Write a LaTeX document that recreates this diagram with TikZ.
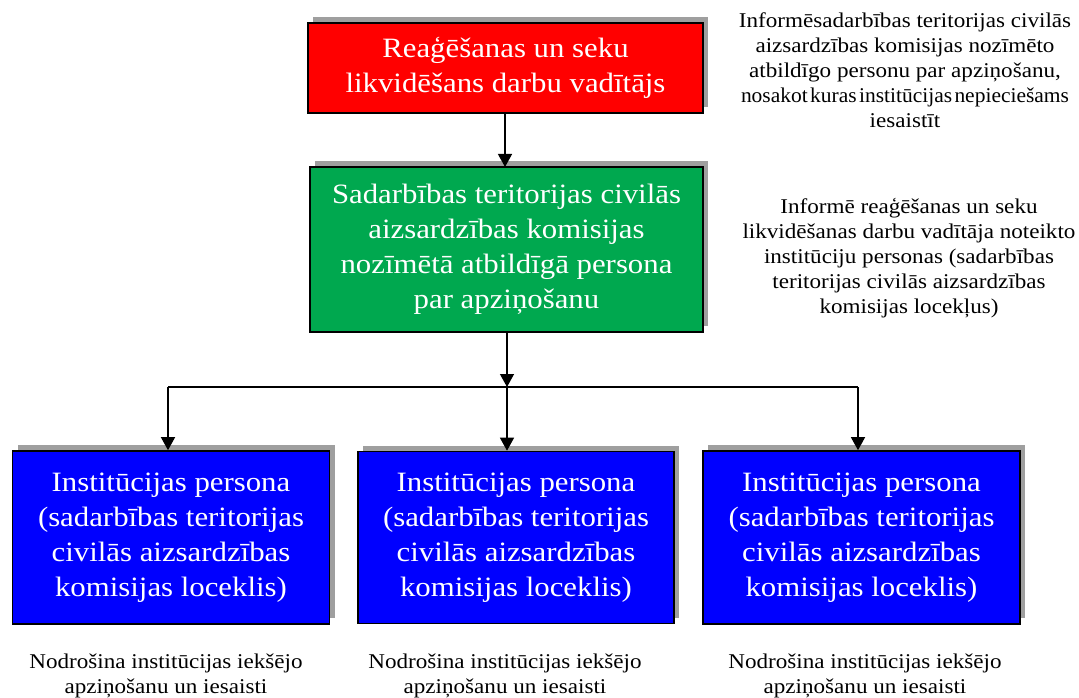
\documentclass[tikz,border=0pt]{standalone}
\usepackage{fontspec}
\setmainfont{Liberation Serif}[FakeStretch=1.1]
\usetikzlibrary{arrows.meta,shadows}
\definecolor{boxred}{HTML}{FF0000}
\definecolor{boxgreen}{HTML}{00A84F}
\definecolor{boxblue}{HTML}{0000FF}
\tikzset{
  boxnode/.style={draw=black, line width=1.6pt, text=white, align=center,
    inner sep=0pt, font=\fontsize{28}{35}\selectfont,
    general shadow={fill=gray!75, shadow xshift=5pt, shadow yshift=6pt}},
  note/.style={align=center, inner sep=0pt, font=\fontsize{21}{25}\selectfont, text=black},
  conn/.style={line width=1.3pt, draw=black},
  arr/.style={conn, -{Triangle[width=14pt,length=13pt]}}
}
\begin{document}
\begin{tikzpicture}[x=1pt,y=-1pt]
\useasboundingbox (0,0) rectangle (1079,698);
\fill[white] (0,0) rectangle (1079,698);

\node[boxnode, fill=boxred, minimum width=395pt, minimum height=90pt] (red) at (505.5,68)
  {Reaģēšanas un seku\\likvidēšans darbu vadītājs};
\node[boxnode, fill=boxgreen, minimum width=393pt, minimum height=165pt] (green) at (506.5,249.5)
  {Sadarbības teritorijas civilās\\aizsardzības komisijas\\nozīmētā atbildīgā persona\\par apziņošanu};
\node[boxnode, fill=boxblue, minimum width=317pt, minimum height=173pt] (b1) at (171,537.5)
  {Institūcijas persona\\(sadarbības teritorijas\\civilās aizsardzības\\komisijas loceklis)};
\node[boxnode, fill=boxblue, minimum width=316pt, minimum height=172pt] (b2) at (516,537.5)
  {Institūcijas persona\\(sadarbības teritorijas\\civilās aizsardzības\\komisijas loceklis)};
\node[boxnode, fill=boxblue, minimum width=317pt, minimum height=173pt] (b3) at (861.5,537.5)
  {Institūcijas persona\\(sadarbības teritorijas\\civilās aizsardzības\\komisijas loceklis)};

\node[note] (n1) at (905,70)
  {Informēsadarbības teritorijas civilās\\aizsardzības komisijas nozīmēto\\atbildīgo personu par apziņošanu,\\\scalebox{0.93}[1]{\spaceskip=0.12em\relax nosakot kuras institūcijas nepieciešams}\\iesaistīt};
\node[note] (n2) at (909,258)
  {Informē reaģēšanas un seku\\likvidēšanas darbu vadītāja noteikto\\institūciju personas (sadarbības\\teritorijas civilās aizsardzības\\komisijas locekļus)};
\node[note] (f1) at (166,676) {Nodrošina institūcijas iekšējo\\apziņošanu un iesaisti};
\node[note] (f2) at (505,676) {Nodrošina institūcijas iekšējo\\apziņošanu un iesaisti};
\node[note] (f3) at (865,676) {Nodrošina institūcijas iekšējo\\apziņošanu un iesaisti};

\coordinate (busL) at (168,387);
\coordinate (busM) at (507,387);
\coordinate (busR) at (858,387);

\draw[arr] (red.south -| 505,0) -- (505,167);
\draw[arr] (green.south -| busM) -- (busM);
\draw[conn] (busL) -- (busR);
\draw[arr] (busL) -- (busL |- b1.north);
\draw[arr] (busM) -- (busM |- b2.north);
\draw[arr] (busR) -- (busR |- b3.north);
\end{tikzpicture}
\end{document}
